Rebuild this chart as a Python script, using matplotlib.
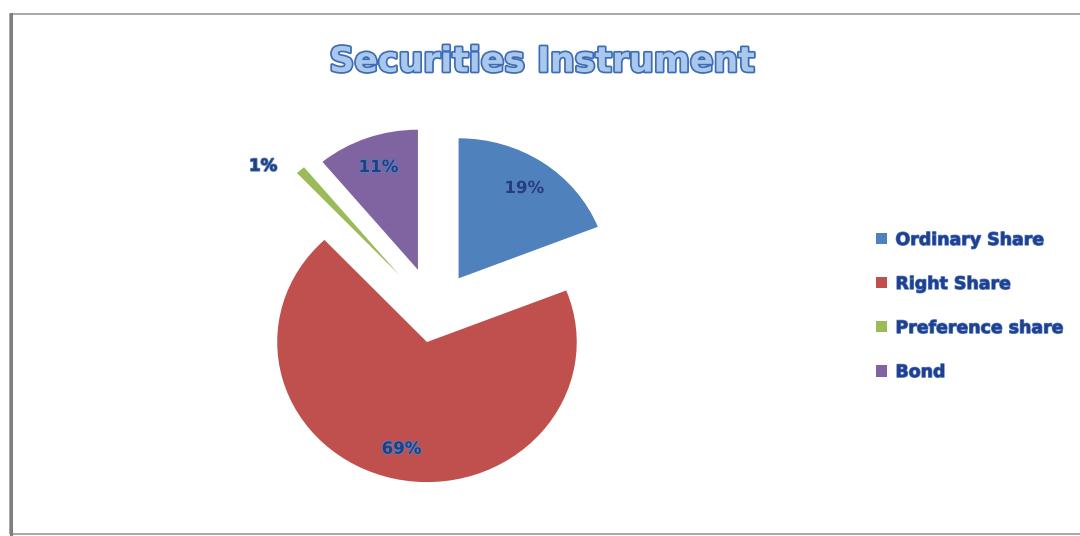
import numpy as np
import matplotlib.pyplot as plt
import matplotlib.patheffects as pe
from matplotlib.patches import Rectangle

# Data
labels = ["Ordinary Share", "Right Share", "Preference share", "Bond"]
shares = [19, 69, 1, 11]
colors = ["#4F81BD", "#C0504D", "#9BBB59", "#8064A2"]
explode = [0.29, 0.22, 0.35, 0.32]

fig = plt.figure(figsize=(10.8, 5.36), dpi=100)

# chart frame
fig.patches.append(Rectangle((10 / 1080, 2 / 536), 1.1, 520 / 536,
                             transform=fig.transFigure, fill=False,
                             edgecolor="#9a9a9a", linewidth=1.2))
fig.add_artist(plt.Line2D([11 / 1080, 11 / 1080], [2 / 536, 522 / 536],
                          transform=fig.transFigure, color="#7f7f7f", lw=2.2))

# the original pie is slightly stretched horizontally
ax = fig.add_axes([0.194, 0.026, 0.416, 0.784])
wedges, texts, autotexts = ax.pie(
    shares, colors=colors, explode=explode, startangle=90, counterclock=False,
    autopct="%d%%", pctdistance=0.78, radius=1.0,
    textprops=dict(color="#1F3F7F", fontsize=12, fontweight="bold"))
ax.set_xlim(-1.5, 1.5)
ax.set_ylim(-1.5, 1.5)
ax.set_aspect("auto")
ax.axis("off")

# small slice: label sits outside the wedge
w = wedges[2]
mid = np.deg2rad((w.theta1 + w.theta2) / 2 + 8)
cx, cy = w.center
autotexts[2].set_position((cx + 1.2 * np.cos(mid), cy + 1.2 * np.sin(mid)))

for t in autotexts:
    t.set_path_effects([pe.withStroke(linewidth=1.2, foreground="#5A7FC0")])

# Title
fig.text(0.502, 0.885, "Securities Instrument", ha="center", va="center",
         fontsize=25, fontweight="bold", color="#A9C8EC",
         path_effects=[pe.withStroke(linewidth=2.5, foreground="#3E6DB5")])

# Legend
leg = fig.legend(wedges, labels, loc="center left",
                 bbox_to_anchor=(0.797, 0.429), frameon=False,
                 handlelength=0.6, handleheight=0.6, handletextpad=0.5,
                 labelspacing=1.5, prop=dict(size=12.5, weight="bold"))
for t in leg.get_texts():
    t.set_color("#1F3F8F")
    t.set_path_effects([pe.withStroke(linewidth=1.0, foreground="#5A7FC0")])

plt.savefig("out.png", dpi=100)
